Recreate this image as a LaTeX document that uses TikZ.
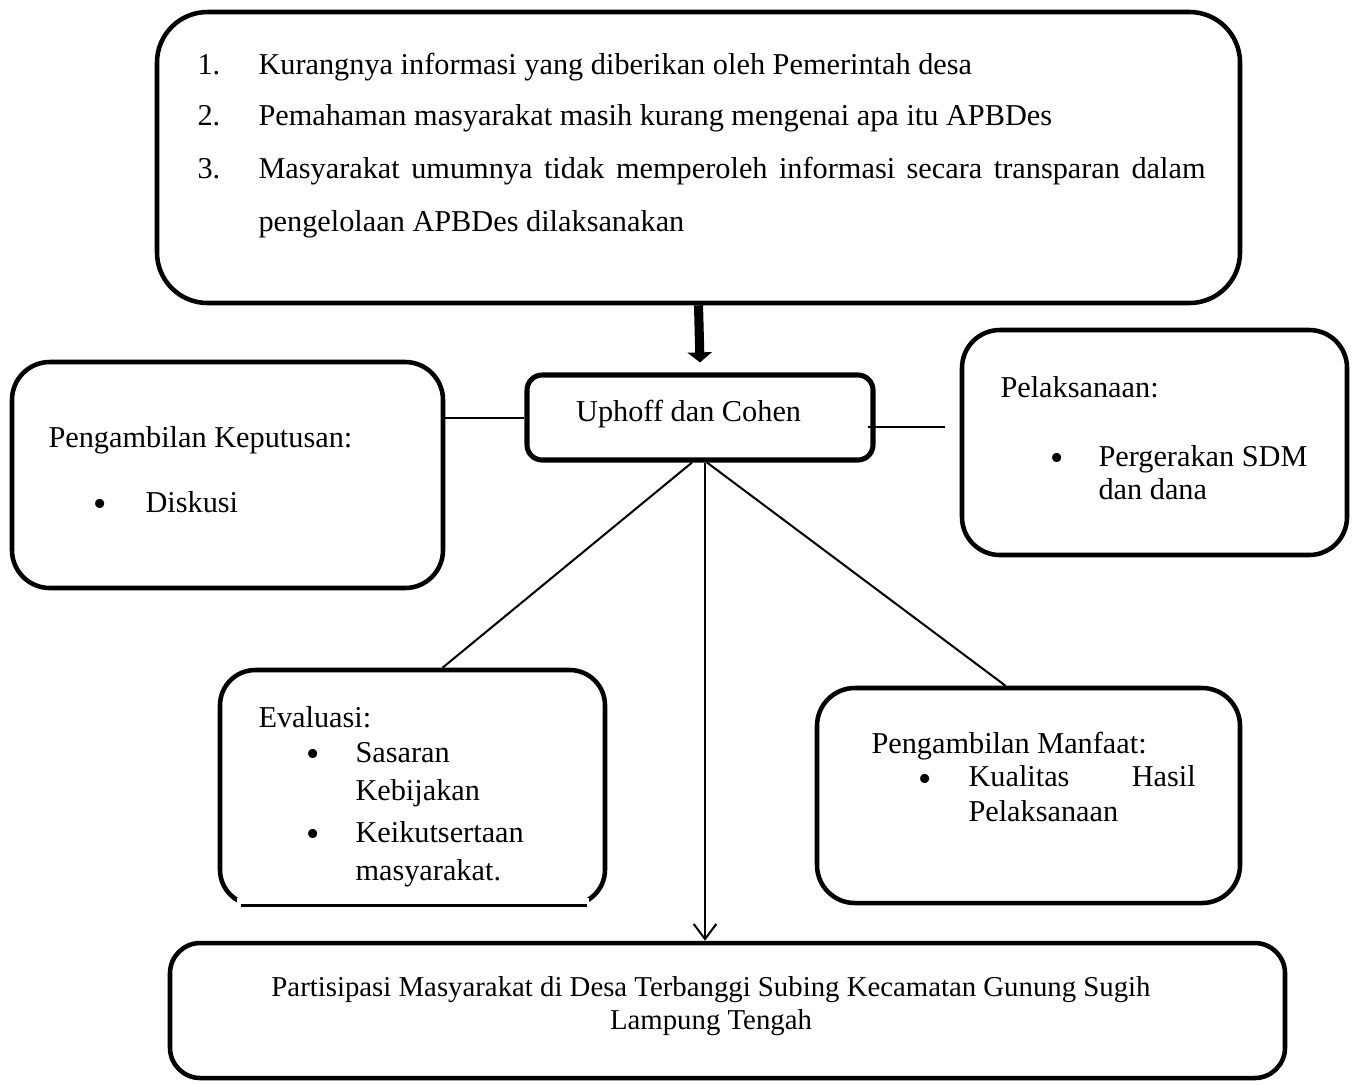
\documentclass[tikz,border=0pt]{standalone}
\usepackage{fontspec}
\setmainfont{Liberation Serif}
\usetikzlibrary{arrows.meta, positioning, calc}

\begin{document}
\begin{tikzpicture}[x=0.396pt, y=-0.396pt,
  box/.style={draw, line width=1.8pt, rounded corners=15pt, inner sep=0pt,
              font=\fontsize{12}{14}\selectfont},
  txt/.style={anchor=base west, inner sep=0pt, align=left,
              font=\fontsize{12}{13.5}\selectfont},
  bul/.style={txt, font=\fontsize{15}{15}\selectfont},
  conn/.style={line width=0.8pt}
]
  \useasboundingbox (0,0) rectangle (1353,1084);

  % Boxes
  \node[box, rounded corners=20pt, minimum width=1083*0.396pt, minimum height=291*0.396pt] (top) at (698.5,157.5) {};
  \node[box, line width=2pt, rounded corners=6pt, text depth=5.5pt, minimum width=346*0.396pt, minimum height=85*0.396pt] (uc) at (700,417.5) {Uphoff dan Cohen\hspace*{9pt}};
  \node[box, minimum width=431*0.396pt, minimum height=226*0.396pt] (kep) at (227.5,475) {};
  \node[box, minimum width=385*0.396pt, minimum height=225*0.396pt] (pel) at (1154.5,442.5) {};
  \node[box, rounded corners=14pt, minimum width=385*0.396pt, minimum height=235*0.396pt] (ev) at (412.5,787.5) {};
  \node[box, minimum width=423*0.396pt, minimum height=215*0.396pt] (mf) at (1028.5,795.5) {};
  \node[box, rounded corners=12pt, minimum width=1115*0.396pt, minimum height=135*0.396pt] (pm) at (727.5,1010.5) {};

  % bottom edge of Evaluasi
  \fill[white] ($(ev.south west)+(19,-9)$) rectangle ($(ev.south east)+(-18,6)$);
  \draw[line width=1.3pt] ($(ev.south west)+(23,-2)$) -- ($(ev.south east)+(-20,-2)$);

  % Masalah
  \node[txt] (n1) at (197,74) {1.};
  \node[txt] (n2) at (197,125) {2.};
  \node[txt] (n3) at (197,178) {3.};
  \node[txt] (m1) at (258,74) {Kurangnya informasi yang diberikan oleh Pemerintah desa};
  \node[txt] (m2) at (258,125) {Pemahaman masyarakat masih kurang mengenai apa itu APBDes};
  \node[txt, align=justify, text width=947*0.396pt, font=\fontsize{12}{21}\selectfont] (m3) at (258,178)
    {Masyarakat umumnya tidak memperoleh informasi secara transparan dalam\linebreak pengelolaan APBDes dilaksanakan};

  % Pengambilan Keputusan
  \node[txt] (kep1) at (48,447) {Pengambilan Keputusan:};
  \node[bul] (kepb) at (93,516) {\textbullet};
  \node[txt] (kep2) at (145,512) {Diskusi};

  % Pelaksanaan
  \node[txt] (pel1) at (1000,397) {Pelaksanaan:};
  \node[bul] (pelb) at (1050,470) {\textbullet};
  \node[txt, font=\fontsize{12}{13}\selectfont] (pel2) at (1098,499) {Pergerakan SDM\\dan dana};

  % Evaluasi
  \node[txt] (ev1) at (258,727) {Evaluasi:};
  \node[bul] (evb1) at (306,766) {\textbullet};
  \node[txt, font=\fontsize{12}{15}\selectfont] (ev2) at (355,800) {Sasaran\\Kebijakan};
  \node[bul] (evb2) at (306,846) {\textbullet};
  \node[txt, font=\fontsize{12}{15}\selectfont] (ev3) at (355,880) {Keikutsertaan\\masyarakat.};

  % Pengambilan Manfaat
  \node[txt] (mf1) at (871,753) {Pengambilan Manfaat:};
  \node[bul] (mfb) at (918,791) {\textbullet};
  \node[txt] (mf2) at (968,821) {\makebox[90pt][l]{Kualitas\hfill Hasil}\\Pelaksanaan};

  % Partisipasi
  \node[txt, anchor=base, align=center, font=\fontsize{11.4}{13}\selectfont] (pm1) at (711,1029)
    {Partisipasi Masyarakat di Desa Terbanggi Subing Kecamatan Gunung Sugih\\Lampung Tengah};

  % Arrows
  \draw[line width=3.6pt, -{Triangle[length=4pt, width=9.5pt]}] (top.south) -- ($(uc.north)+(0,-10)$);
  \draw[conn] (uc.west -| kep.east) -- (uc.west);
  \draw[conn] ($(uc.east)+(-8,9)$) -- ($(uc.east -| pel.west)+(-15,9)$);
  \draw[conn] ($(uc.south)+(-8,0)$) -- ($(ev.north)+(30,0)$);
  \draw[conn] ($(uc.south)+(7,0)$) -- ($(mf.north)+(-23,0)$);
  \coordinate (vdown) at ($(uc.south)+(5,0)$);
  \draw[conn, -{Straight Barb[length=6pt, width=9pt]}] (vdown) -- (vdown |- pm.north);
\end{tikzpicture}
\end{document}
